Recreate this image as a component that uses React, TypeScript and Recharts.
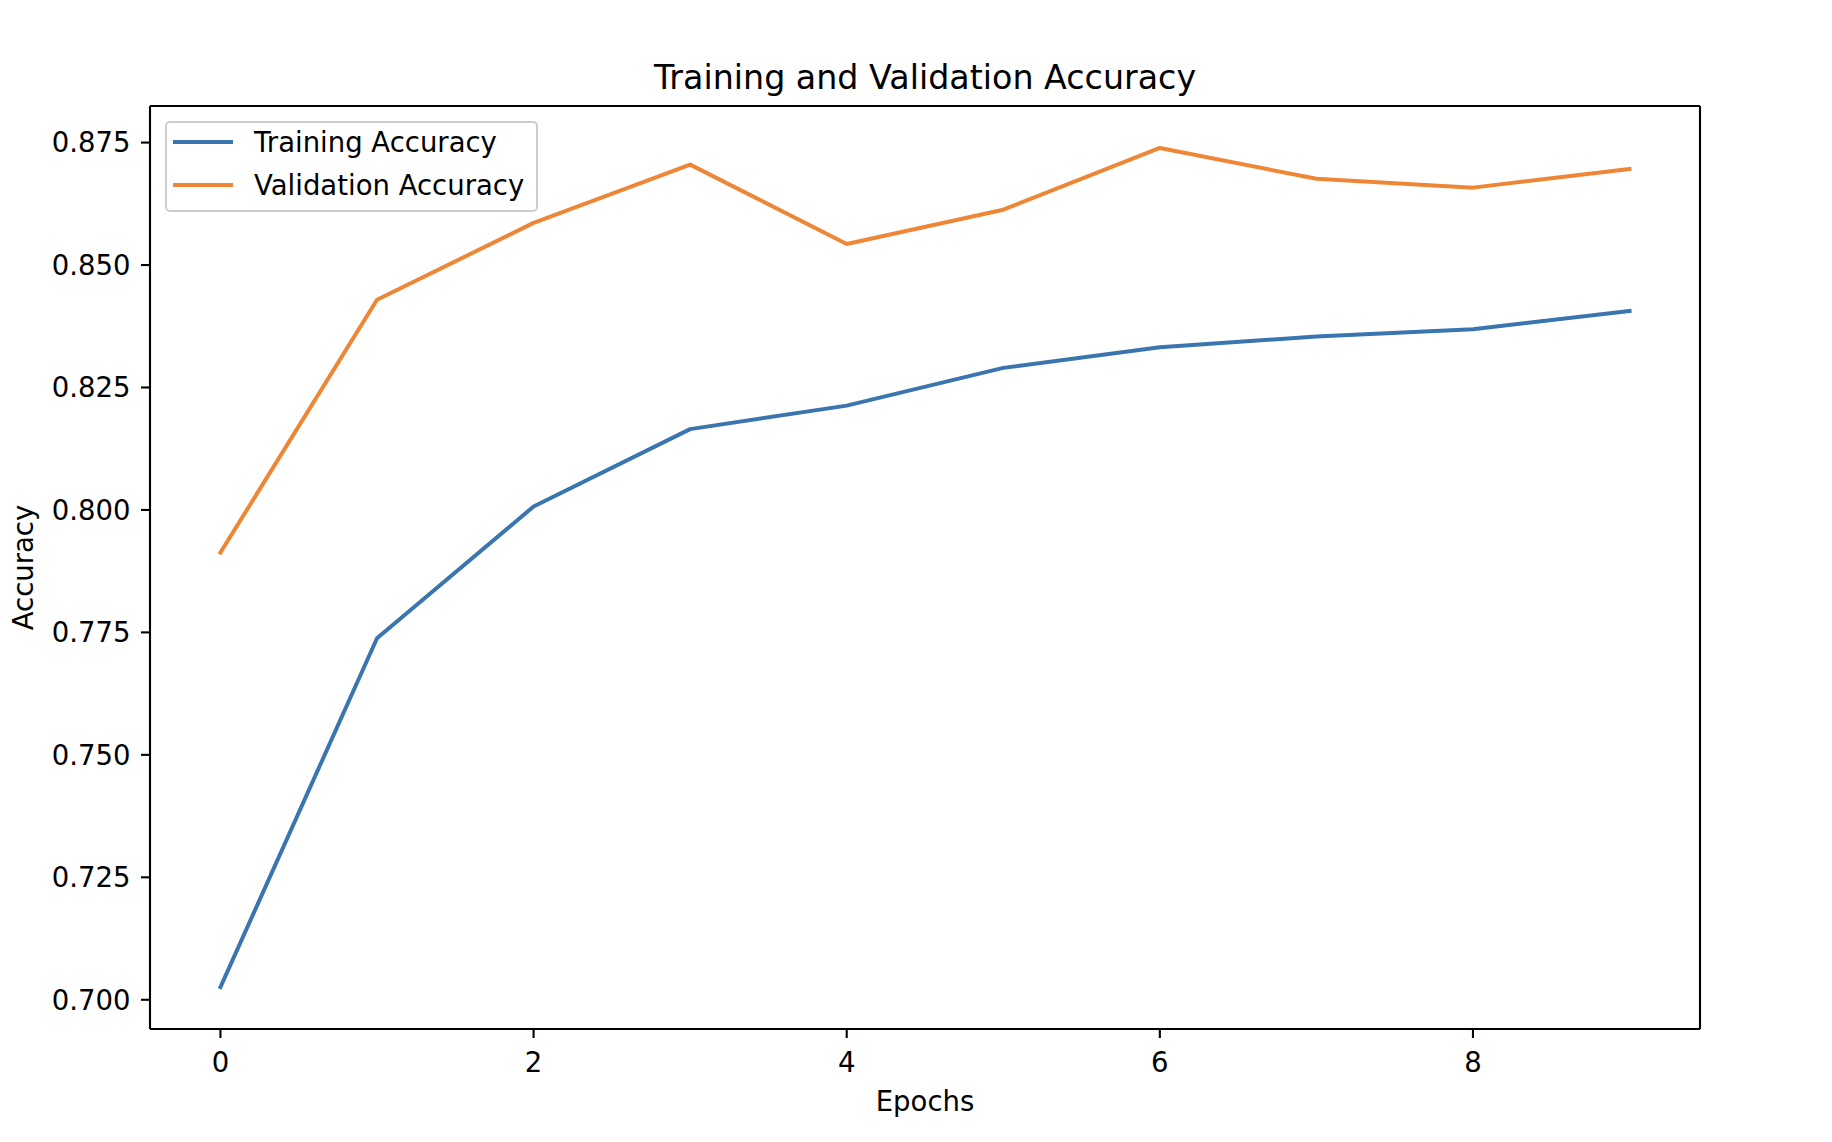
import React from 'react';
import { LineChart, Line, XAxis, YAxis, Legend, Label, ReferenceLine } from 'recharts';

const epochs = [0, 1, 2, 3, 4, 5, 6, 7, 8, 9];
const trainingAccuracy = [0.7026, 0.7738, 0.8007, 0.8165, 0.8213, 0.829, 0.8332, 0.8354, 0.8369, 0.8406];
const validationAccuracy = [0.7913, 0.8429, 0.8586, 0.8705, 0.8543, 0.8613, 0.8739, 0.8676, 0.8658, 0.8696];
const xTicks = [0, 2, 4, 6, 8];
const yTicks = [0.7, 0.725, 0.75, 0.775, 0.8, 0.825, 0.85, 0.875];
const seriesKeys = ['training', 'validation'];
const seriesNames = ['Training Accuracy', 'Validation Accuracy'];
const seriesColors = ['#3a75b0', '#ef8636'];
const chartTitle = 'Training and Validation Accuracy';
const xLabel = 'Epochs';
const yLabel = 'Accuracy';

const data = epochs.map((e, i) => ({
  epoch: e,
  training: trainingAccuracy[i],
  validation: validationAccuracy[i],
}));

const allVals = [...trainingAccuracy, ...validationAccuracy];
const yMin = Math.min(...allVals);
const yMax = Math.max(...allVals);
const yPad = (yMax - yMin) * 0.05;
const yDomain: [number, number] = [yMin - yPad, yMax + yPad];
const xPad = (epochs[epochs.length - 1] - epochs[0]) * 0.05;
const xDomain: [number, number] = [epochs[0] - xPad, epochs[epochs.length - 1] + xPad];

const FONT = '"DejaVu Sans", sans-serif';
const FS = 27.5;
const TFS = 33.3;
const AXW = 2.1;

const W = 1832;
const H = 1142;

const renderLegend = () => (
  <div
    style={{
      boxSizing: 'border-box',
      width: 373,
      height: 91,
      border: `${2.4}px solid #cccccc`,
      borderRadius: 5,
      background: 'rgba(255,255,255,0.8)',
      position: 'relative',
      fontFamily: FONT,
      fontSize: FS,
      color: '#000',
    }}
  >
    {seriesNames.map((n, i) => {
      const cy = 21.3 + i * 42.7 - 2.4;
      return (
        <React.Fragment key={n}>
          <div
            style={{
              position: 'absolute',
              left: 9 - 2.4,
              top: cy - 2,
              width: 59.5,
              height: 4,
              background: seriesColors[i],
            }}
          />
          <div
            style={{
              position: 'absolute',
              left: 90 - 2.4,
              top: cy - FS / 2 + 1,
              lineHeight: `${FS}px`,
              whiteSpace: 'nowrap',
            }}
          >
            {n}
          </div>
        </React.Fragment>
      );
    })}
  </div>
);

export default function App() {
  return (
    <div style={{ position: 'absolute', left: 0, top: 0, width: W, height: H, background: '#fff' }}>
      <div
        style={{
          position: 'absolute',
          left: 150,
          width: 1550,
          top: 89.5 - 0.846 * TFS,
          textAlign: 'center',
          fontFamily: FONT,
          fontSize: TFS,
          lineHeight: `${TFS}px`,
          color: '#000',
          whiteSpace: 'nowrap',
        }}
      >
        {chartTitle}
      </div>
      <LineChart width={W} height={H} data={data} margin={{ top: 106, right: 132, bottom: 0, left: 0 }}>
        <XAxis
          dataKey="epoch"
          type="number"
          domain={xDomain}
          ticks={xTicks}
          allowDataOverflow
          height={113}
          tickSize={9}
          tickMargin={14}
          tick={{ fill: '#000', fontSize: FS, fontFamily: FONT }}
          tickLine={{ stroke: '#000', strokeWidth: AXW }}
          axisLine={{ stroke: '#000', strokeWidth: AXW }}
        >
          <Label
            content={(props: any) => {
              const vb = props.viewBox || { x: 150, y: 1029, width: 1550, height: 113 };
              return (
                <text
                  x={vb.x + vb.width / 2}
                  y={vb.y + 81.7}
                  textAnchor="middle"
                  fill="#000"
                  fontSize={FS}
                  fontFamily={FONT}
                >
                  {xLabel}
                </text>
              );
            }}
          />
        </XAxis>
        <YAxis
          type="number"
          domain={yDomain}
          ticks={yTicks}
          allowDataOverflow
          width={150}
          tickSize={9}
          tickMargin={10.5}
          tickFormatter={(v: number) => v.toFixed(3)}
          tick={{ fill: '#000', fontSize: FS, fontFamily: FONT }}
          tickLine={{ stroke: '#000', strokeWidth: AXW }}
          axisLine={{ stroke: '#000', strokeWidth: AXW }}
        >
          <Label
            content={(props: any) => {
              const vb = props.viewBox || { x: 0, y: 106, width: 150, height: 923 };
              const cx = vb.x + 33;
              const cy = vb.y + vb.height / 2;
              return (
                <text
                  x={cx}
                  y={cy}
                  transform={`rotate(-90, ${cx}, ${cy})`}
                  textAnchor="middle"
                  fill="#000"
                  fontSize={FS}
                  fontFamily={FONT}
                >
                  {yLabel}
                </text>
              );
            }}
          />
        </YAxis>
        <ReferenceLine y={yDomain[1]} stroke="#000" strokeWidth={AXW} ifOverflow="visible" />
        <ReferenceLine x={xDomain[1]} stroke="#000" strokeWidth={AXW} ifOverflow="visible" />
        {seriesKeys.map((k, i) => (
          <Line
            key={k}
            type="linear"
            dataKey={k}
            name={seriesNames[i]}
            stroke={seriesColors[i]}
            strokeWidth={4}
            strokeLinejoin="round"
            strokeLinecap="square"
            dot={false}
            activeDot={false}
            isAnimationActive={false}
          />
        ))}
        <Legend
          layout="horizontal"
          verticalAlign="middle"
          align="center"
          content={renderLegend}
          wrapperStyle={{ left: 164.5, top: 121, width: 373, height: 91 }}
        />
      </LineChart>
    </div>
  );
}
